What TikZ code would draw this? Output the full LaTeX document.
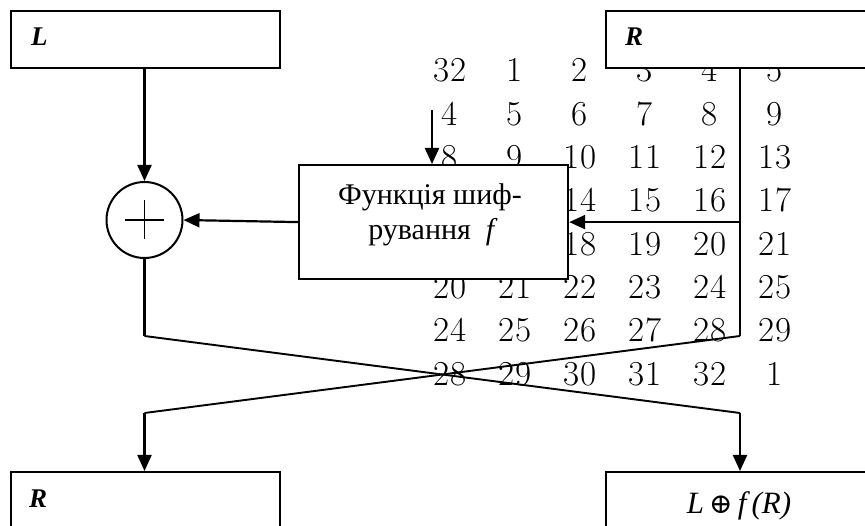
\documentclass[tikz,border=0pt]{standalone}
\usepackage{fontspec}
\newfontfamily\tnr{Liberation Serif}
\newfontfamily\dvs{DejaVu Serif}
\usetikzlibrary{arrows.meta}
\begin{document}
\begin{tikzpicture}[x=1pt,y=-1pt,
  box/.style={draw, line width=2.2pt, fill=white, inner sep=0pt, anchor=north west},
  conn/.style={line width=2.2pt},
  thinconn/.style={line width=1.9pt},
  arr/.style={conn, -{Triangle[length=16pt,width=14pt]}},
  num/.style={font=\fontsize{35}{35}\selectfont, anchor=base, inner sep=0pt},
  lab/.style={font=\tnr\bfseries\itshape\fontsize{27}{27}\selectfont, anchor=base west, inner sep=0pt},
  ftxt/.style={font=\tnr\fontsize{30}{30}\selectfont, anchor=base, inner sep=0pt}]
\useasboundingbox (0,0) rectangle (865,526);
% expansion table in the background (entries fully hidden by the box are omitted)
\foreach \vals [count=\r from 0] in {{32,1,2,3,4,5},{4,5,6,7,8,9},{8,9,10,11,12,13},{,,14,15,16,17},{,,18,19,20,21},{20,21,22,23,24,25},{24,25,26,27,28,29},{28,29,30,31,32,1}}{
  \foreach \v [count=\c from 0] in \vals {
    \node[num] (n\r-\c) at ({450+65*\c},{82+43.3*\r}) {\v};
  }
}
% boxes
\node[box, minimum width=269pt, minimum height=57pt] (Ltop) at (10,10) {};
\node[box, minimum width=290pt, minimum height=57pt] (Rtop) at (605,10) {};
\node[box, minimum width=269pt, minimum height=70pt] (Rbot) at (10,471) {};
\node[box, minimum width=290pt, minimum height=70pt] (Lbot) at (605,471) {};
\node[box, minimum width=269pt, minimum height=114pt] (fbox) at (298,164) {};
\node[draw, circle, line width=2pt, fill=white, minimum size=76pt, inner sep=0pt] (xor) at (144.5,220) {};
\draw[line width=1.6pt] (xor.center) +(-19.5,0) -- +(19.5,0);
\draw[line width=1.6pt] (xor.center) +(0,-19.5) -- +(0,19.5);
% labels
\node[lab] (Llab) at (31,46) {L};
\node[lab] (Rlab) at (625,46) {R};
\node[lab] (Rblab) at (29,507) {R};
\node[ftxt] (f1) at (430,205) {Функція шиф-};
\node[ftxt] (f2) at (433,240) {рування\ \ \textit{f}};
\node[font=\tnr\itshape\fontsize{31}{31}\selectfont, anchor=base, inner sep=0pt] (Lflab) at (739,513) {L\,{\upshape\dvs\fontsize{28}{28}\selectfont ⊕}\,f\,(R)};
% coordinates
\coordinate (rx) at (740,336);
\coordinate (lx) at (144.5,413);
\coordinate (lc) at (144.5,336);
\coordinate (rc) at (740,413);
\coordinate (fin) at (432,110);
% connectors
\draw[arr] (Ltop.south -| xor) -- (xor.north);
\draw[arr] (fbox.west) -- (xor.east);
\draw[arr] (fin) -- (fin |- fbox.north);
\draw[conn] (Rtop.south -| rx) -- (rx);
\draw[thinconn] (rx) -- (lx);
\draw[arr] (fbox.east -| rx) -- (fbox.east);
\draw[arr] (lx) -- (lx |- Rbot.north);
\draw[conn] (xor.south) -- (lc);
\draw[thinconn] (lc) -- (rc);
\draw[arr] (rc) -- (rc |- Lbot.north);
\end{tikzpicture}
\end{document}
